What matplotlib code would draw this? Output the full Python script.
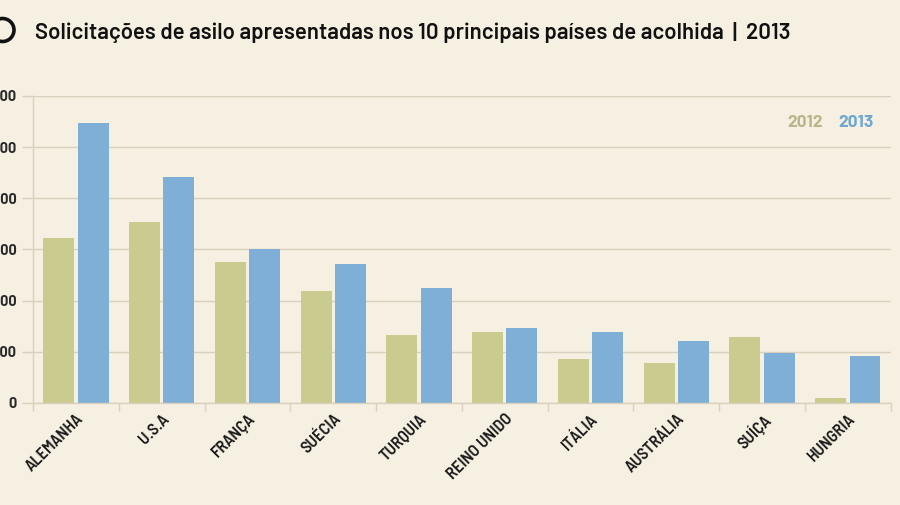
import numpy as np
import matplotlib
matplotlib.use('Agg')
import matplotlib.pyplot as plt
from matplotlib.patches import Circle

paises = ['ALEMANHA', 'U.S.A', 'FRANÇA', 'SUÉCIA', 'TURQUIA', 'REINO UNIDO',
          'ITÁLIA', 'AUSTRÁLIA', 'SUÍÇA', 'HUNGRIA']
pedidos_2012 = [64500, 70700, 55000, 43900, 26500, 27900, 17300, 15700, 25800, 2100]
pedidos_2013 = [109600, 88400, 60000, 54300, 44900, 29200, 27800, 24400, 19400, 18500]
yticks = [0, 20000, 40000, 60000, 80000, 100000, 120000]
ylabels = ['0', '20 000', '40 000', '60 000', '80 000', '100 000', '120 000']

fundo = '#f6f0e2'
verde = '#cacc8f'
azul = '#7fafd7'
grade = '#d9d1bd'

plt.rcParams['font.family'] = ['Barlow', 'DejaVu Sans']

fig = plt.figure(figsize=(9, 5.05), dpi=100, facecolor=fundo)
ax = fig.add_axes([0.0367, 0.202, 0.953, 0.608])
ax.set_facecolor(fundo)

x = np.arange(len(paises))
w = 0.36
ax.bar(x - 0.2, pedidos_2012, width=w, color=verde, zorder=2)
ax.bar(x + 0.2, pedidos_2013, width=w, color=azul, zorder=2)

ax.set_xlim(-0.5, len(paises) - 0.5)
ax.set_ylim(0, 120000)
ax.set_yticks(yticks)
ax.set_yticklabels(ylabels, fontsize=10.5, fontweight='bold', color='#2a2a2a')
ax.yaxis.grid(True, color=grade, linewidth=1, zorder=0)

ax.set_xticks(np.arange(len(paises) + 1) - 0.5)
ax.set_xticklabels([])
ax.set_xticks(x, minor=True)
ax.set_xticklabels(paises, minor=True, rotation=45, ha='right', rotation_mode='anchor',
                   family=['Barlow Semi Condensed', 'DejaVu Sans'],
                   fontsize=12, fontweight='semibold', color='#1a1a1a')
ax.tick_params(axis='x', which='minor', length=0, pad=6)
ax.tick_params(axis='x', which='major', length=6, color=grade, width=1)
ax.tick_params(axis='y', length=8, color=grade, width=1, pad=4)

for s in ['top', 'right']:
    ax.spines[s].set_visible(False)
for s in ['left', 'bottom']:
    ax.spines[s].set_color(grade)
    ax.spines[s].set_linewidth(1)

ax.text(0.921, 0.912, '2012', transform=ax.transAxes, ha='right', va='center',
        fontsize=12.5, fontweight='bold', color='#b8b78c')
ax.text(0.939, 0.912, '2013', transform=ax.transAxes, ha='left', va='center',
        fontsize=12.5, fontweight='bold', color='#6fa7d2')

fig.text(0.039, 0.935, 'Solicitações de asilo apresentadas nos 10 principais países de acolhida  |  2013',
         fontsize=16, fontweight='semibold', color='#111111', va='center', ha='left')
circ = Circle((0.025, 4.75), 0.115, transform=fig.dpi_scale_trans, fill=False,
              edgecolor='#111111', linewidth=2.6)
fig.patches.append(circ)

fig.savefig('out.png', dpi=100, facecolor=fundo)
